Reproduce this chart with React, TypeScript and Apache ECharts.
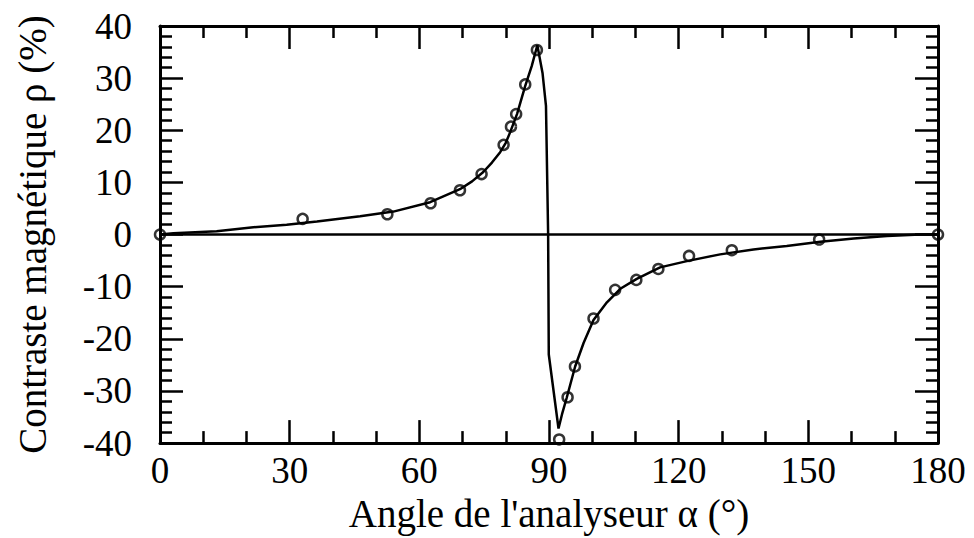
import React, { useEffect, useRef } from "react";
import * as echarts from "echarts";

// Theoretical curve (angle in degrees, contrast in %)
const curveAngle = [0, 3.1, 13.1, 21.6, 29.3, 36.3, 46.3, 54.0, 62.5, 69.4, 72.2, 74.8, 76.8, 78.7, 80.0, 81.0, 82.6, 84.5, 86.0, 87.3, 88.5, 89.3, 89.8, 89.95, 92.2, 93.0, 94.1, 96.05, 98.0, 100.3, 103.4, 106.5, 110.3, 115.7, 121.9, 129.6, 137.3, 145.0, 152.8, 160.5, 168.2, 175.9, 180];
const curveValue = [0, 0.27, 0.63, 1.4, 1.9, 2.5, 3.5, 4.4, 6.2, 8.7, 10.2, 12.0, 13.8, 15.8, 17.6, 19.6, 23.1, 28.5, 32.3, 36.3, 31.0, 24.7, 0, -23.0, -37.2, -34.5, -31.3, -25.3, -20.8, -16.4, -13.0, -10.4, -8.5, -6.3, -5.1, -3.8, -2.85, -2.2, -1.4, -0.76, -0.3, 0, 0];

// Measured points
const pointAngle = [0, 33.0, 52.6, 62.6, 69.4, 74.4, 79.5, 81.2, 82.4, 84.5, 87.2, 92.35, 94.3, 96.0, 100.3, 105.3, 110.2, 115.3, 122.4, 132.3, 152.5, 180];
const pointValue = [0, 3.0, 3.9, 6.0, 8.5, 11.6, 17.2, 20.7, 23.1, 28.8, 35.4, -39.3, -31.2, -25.3, -16.1, -10.6, -8.7, -6.6, -4.1, -3.0, -0.95, 0];

const xTicks = [0, 30, 60, 90, 120, 150, 180];
const yTicks = [-40, -30, -20, -10, 0, 10, 20, 30, 40];

const FONT = "'Liberation Serif', 'Times New Roman', 'DejaVu Serif', serif";

export default function App() {
  const ref = useRef<HTMLDivElement>(null);
  useEffect(() => {
    if (!ref.current) return;
    const chart = echarts.init(ref.current, null, { renderer: "svg" });
    const lineStyle = { color: "#000", width: 3 };
    const tickStyle = { color: "#000", width: 2.5 };
    const baseX = {
      type: "value" as const,
      min: xTicks[0],
      max: xTicks[xTicks.length - 1],
      interval: 30,
      axisLine: { show: true, onZero: false, lineStyle },
      axisTick: { show: true, inside: true, length: 23, lineStyle: tickStyle },
      minorTick: { show: true, splitNumber: 3, length: 12, lineStyle: tickStyle },
      splitLine: { show: false },
    };
    const baseY = {
      type: "value" as const,
      min: yTicks[0],
      max: yTicks[yTicks.length - 1],
      interval: 10,
      axisLine: { show: true, onZero: false, lineStyle },
      axisTick: { show: true, inside: true, length: 23, lineStyle: tickStyle },
      minorTick: { show: true, splitNumber: 5, length: 12, lineStyle: tickStyle },
      splitLine: { show: false },
    };
    chart.setOption({
      animation: false,
      backgroundColor: "#fff",
      grid: { left: 160, right: 36, top: 26, bottom: 91, containLabel: false },
      xAxis: [
        {
          ...baseX,
          position: "bottom",
          axisLabel: { show: true, margin: 9, color: "#000", fontSize: 37, fontFamily: FONT },
          name: "Angle de l'analyseur α (°)",
          nameLocation: "middle",
          nameGap: 44,
          nameTextStyle: { color: "#000", fontSize: 39, fontFamily: FONT },
        },
        { ...baseX, position: "top", axisLabel: { show: false } },
      ],
      yAxis: [
        {
          ...baseY,
          position: "left",
          axisLabel: { show: true, margin: 28, color: "#000", fontSize: 37, fontFamily: FONT },
          name: "Contraste magnétique ρ (%)",
          nameLocation: "middle",
          nameGap: 108,
          nameTextStyle: { color: "#000", fontSize: 39, fontFamily: FONT },
        },
        { ...baseY, position: "right", axisLabel: { show: false } },
      ],
      series: [
        {
          type: "line",
          data: curveAngle.map((a, i) => [a, curveValue[i]]),
          showSymbol: false,
          smooth: false,
          lineStyle: { color: "#000", width: 2.5 },
          markLine: {
            silent: true,
            symbol: "none",
            label: { show: false },
            lineStyle: { color: "#000", width: 2.5, type: "solid" },
            data: [{ yAxis: 0 }],
          },
        },
        {
          type: "scatter",
          data: pointAngle.map((a, i) => [a, pointValue[i]]),
          symbol: "circle",
          symbolSize: 10,
          clip: false,
          itemStyle: { color: "rgba(0,0,0,0)", borderColor: "#000", borderWidth: 2.5 },
        },
      ],
    });
    return () => chart.dispose();
  }, []);
  return <div ref={ref} style={{ width: 974, height: 538, position: "absolute", left: 0, top: 0 }} />;
}
